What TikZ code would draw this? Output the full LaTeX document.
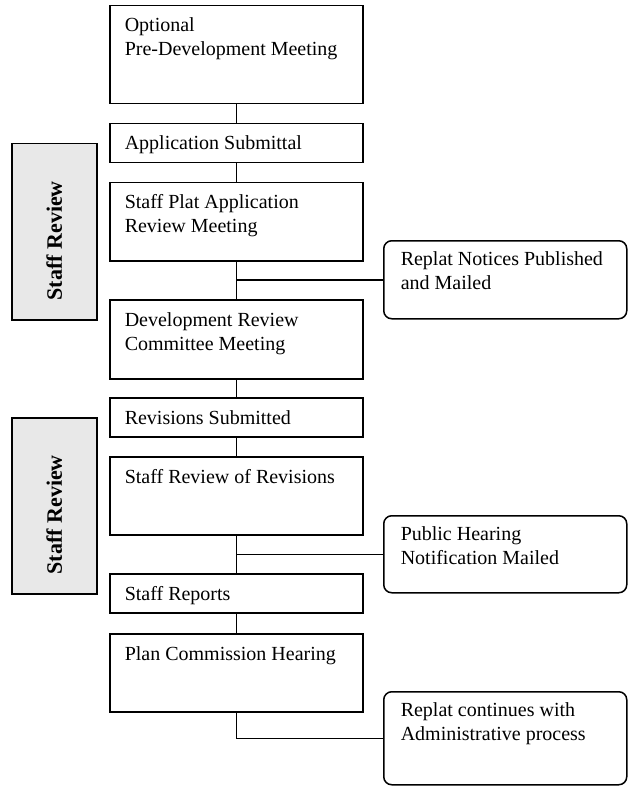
\documentclass[tikz,border=0pt]{standalone}
\usepackage{fontspec}
\setmainfont{Liberation Serif}
\usetikzlibrary{calc}
\begin{document}
\begin{tikzpicture}[x=1pt,y=-1pt,
  line width=1.5pt,
  stage/.style={draw=black, rectangle, minimum width=253pt, anchor=north west, inner sep=0pt},
  side/.style={draw=black, rectangle, rounded corners=8pt, minimum width=243pt, anchor=north west, inner sep=0pt},
  review/.style={draw=black, fill=gray!18, rectangle, minimum width=85pt, minimum height=176pt, anchor=north west, inner sep=0pt},
  txt/.style={anchor=base west, align=left, inner sep=0pt, font=\fontsize{20}{24}\selectfont},
  reviewtxt/.style={rotate=90, inner sep=0pt, font=\fontsize{22}{26}\selectfont\bfseries},
  link/.style={draw=black, line width=1.5pt}
]
\useasboundingbox (0,0) rectangle (627,786);

% main column
\node[stage, minimum height=98pt] (b1) at (109,5) {};
\node[stage, minimum height=39pt] (b2) at (109,123) {};
\node[stage, minimum height=78pt] (b3) at (109,182) {};
\node[stage, minimum height=79pt] (b4) at (109,299) {};
\node[stage, minimum height=39pt] (b5) at (109,397) {};
\node[stage, minimum height=78pt] (b6) at (109,456) {};
\node[stage, minimum height=39pt] (b7) at (109,573) {};
\node[stage, minimum height=78pt] (b8) at (109,633) {};

% (base anchor of a two-line text is its last line)
\path (b1.north west) ++(15,51) node[txt] {Optional\\Pre-Development Meeting};
\path (b2.north west) ++(15,27) node[txt] {Application Submittal};
\path (b3.north west) ++(15,51) node[txt] {Staff Plat Application\\Review Meeting};
\path (b4.north west) ++(15,51) node[txt] {Development Review\\Committee Meeting};
\path (b5.north west) ++(15,27) node[txt] {Revisions Submitted};
\path (b6.north west) ++(15,27) node[txt] {Staff Review of Revisions};
\path (b7.north west) ++(15,27) node[txt] {Staff Reports};
\path (b8.north west) ++(15,27) node[txt] {Plan Commission Hearing};

% side notes
\node[side, minimum height=78pt] (s1) at (383,240) {};
\node[side, minimum height=77pt] (s2) at (383,515) {};
\node[side, minimum height=93pt] (s3) at (383,691) {};

\path (s1.north west) ++(17,49) node[txt] {Replat Notices Published\\and Mailed};
\path (s2.north west) ++(17,49) node[txt] {Public Hearing\\Notification Mailed};
\path (s3.north west) ++(17,49) node[txt] {Replat continues with\\Administrative process};

% staff review bands
\node[review] (r1) at (11,143) {};
\node[review] (r2) at (11,417) {};
\path (r1.center) ++(0,9) node[reviewtxt] {Staff Review};
\path (r2.center) ++(0,9) node[reviewtxt] {Staff Review};

% connectors
\draw[link] (b1.south) -- (b2.north);
\draw[link] (b2.south) -- (b3.north);
\draw[link] (b3.south) -- (b4.north);
\draw[link] (b4.south) -- (b5.north);
\draw[link] (b5.south) -- (b6.north);
\draw[link] (b6.south) -- (b7.north);
\draw[link] (b7.south) -- (b8.north);
\draw[link] (s1.west) -- (s1.west -| b3.south);
\draw[link] (s2.west) -- (s2.west -| b6.south);
\draw[link] (b8.south) |- (s3.west);
\end{tikzpicture}
\end{document}
